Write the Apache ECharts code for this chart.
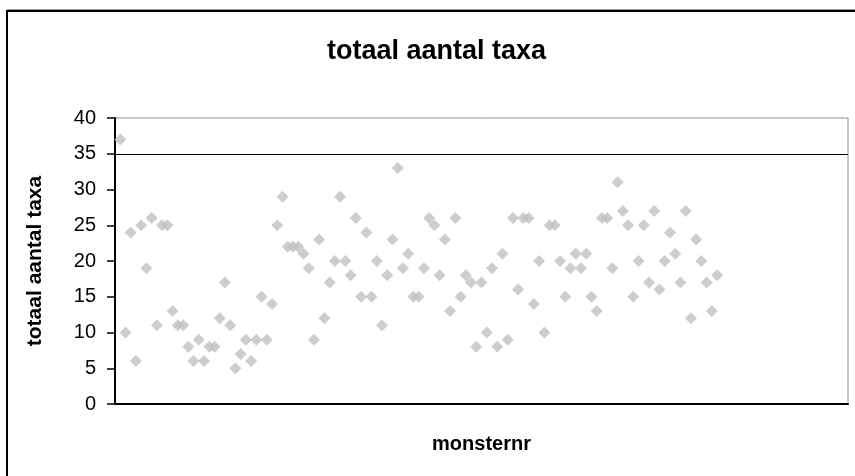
<!DOCTYPE html>
<html>
<head>
<meta charset="utf-8">
<title>totaal aantal taxa</title>
<script src="https://cdn.jsdelivr.net/npm/echarts@6/dist/echarts.min.js"></script>
<style>
  html, body { margin: 0; padding: 0; background: #fff; }
  #chart { width: 855px; height: 476px; }
</style>
</head>
<body>
<div id="chart"></div>
<script>
// Total number of taxa per sample (monsternr 1..115)
const taxaCounts = [
  37, 10, 24, 6, 25, 19, 26, 11, 25, 25,
  13, 11, 11, 8, 6, 9, 6, 8, 8, 12,
  17, 11, 5, 7, 9, 6, 9, 15, 9, 14,
  25, 29, 22, 22, 22, 21, 19, 9, 23, 12,
  17, 20, 29, 20, 18, 26, 15, 24, 15, 20,
  11, 18, 23, 33, 19, 21, 15, 15, 19, 26,
  25, 18, 23, 13, 26, 15, 18, 17, 8, 17,
  10, 19, 8, 21, 9, 26, 16, 26, 26, 14,
  20, 10, 25, 25, 20, 15, 19, 21, 19, 21,
  15, 13, 26, 26, 19, 31, 27, 25, 15, 20,
  25, 17, 27, 16, 20, 24, 21, 17, 27, 12,
  23, 20, 17, 13, 18
];
// Reference level drawn as a horizontal line
const referenceLevel = 35;
const yTicks = [0, 5, 10, 15, 20, 25, 30, 35, 40];

const titleText = 'totaal aantal taxa';
const yName = 'totaal aantal taxa';
const xName = 'monsternr';

const points = taxaCounts.map((v, i) => [i + 1, v]);
const FONT = '"Liberation Sans", Arial, sans-serif';

const chart = echarts.init(document.getElementById('chart'), null, { renderer: 'canvas' });
chart.setOption({
  backgroundColor: '#ffffff',
  animation: false,
  title: {
    text: titleText,
    left: 322,
    top: 33,
    textStyle: { fontFamily: FONT, fontSize: 27, fontWeight: 'bold', color: '#000' }
  },
  graphic: [
    { type: 'line', shape: { x1: 7, y1: 9.5, x2: 855, y2: 9.5 }, style: { stroke: '#9a9a9a', lineWidth: 1 } },
    { type: 'line', shape: { x1: 6, y1: 11, x2: 855, y2: 11 }, style: { stroke: '#000', lineWidth: 2 } },
    { type: 'line', shape: { x1: 7, y1: 10, x2: 7, y2: 476 }, style: { stroke: '#000', lineWidth: 2 } }
  ],
  grid: {
    left: 115, right: 7, top: 118, bottom: 72,
    show: true, borderColor: '#8c8c8c', borderWidth: 1, backgroundColor: '#fff'
  },
  xAxis: {
    type: 'value', min: 0, max: 140,
    name: xName, nameLocation: 'middle', nameGap: 30,
    nameTextStyle: { fontFamily: FONT, fontSize: 20, fontWeight: 'bold', color: '#000' },
    axisLine: { show: true, onZero: false, lineStyle: { color: '#000', width: 2 } },
    axisTick: { show: false },
    axisLabel: { show: false },
    splitLine: { show: false }
  },
  yAxis: {
    type: 'value', min: yTicks[0], max: yTicks[yTicks.length - 1], interval: 5,
    name: yName, nameLocation: 'middle', nameGap: 69,
    nameTextStyle: { fontFamily: FONT, fontSize: 21, fontWeight: 'bold', color: '#000' },
    axisLine: { show: true, lineStyle: { color: '#000', width: 2 } },
    axisTick: { show: true, length: 8, lineStyle: { color: '#000', width: 1.5 } },
    axisLabel: { fontFamily: FONT, fontSize: 20, color: '#000', margin: 19 },
    splitLine: { show: false }
  },
  series: [{
    type: 'scatter',
    data: points,
    symbol: 'diamond',
    symbolSize: 12,
    itemStyle: { color: '#c0c0c0' },
    markLine: {
      silent: true,
      symbol: 'none',
      label: { show: false },
      lineStyle: { color: '#000', width: 1.2, type: 'solid' },
      data: [{ yAxis: referenceLevel }]
    }
  }]
});
</script>
</body>
</html>
